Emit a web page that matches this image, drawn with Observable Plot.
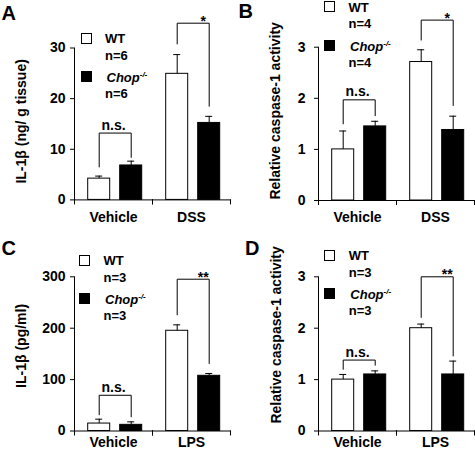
<!DOCTYPE html>
<html><head><meta charset="utf-8">
<script src="https://cdn.jsdelivr.net/npm/d3@7"></script>
<script src="https://cdn.jsdelivr.net/npm/@observablehq/plot@0.6"></script>
<style>
html,body{margin:0;padding:0;background:#fff;}
#fig{position:relative;width:475px;height:454px;overflow:hidden;font-family:"Liberation Sans",Arial,sans-serif;color:#000;}
.panel{position:absolute;}
.letter{position:absolute;font-weight:bold;font-size:20px;line-height:20px;}
.sq{position:absolute;width:9px;height:9px;border:1px solid #000;box-sizing:content-box;}
.lt{position:absolute;font-weight:bold;font-size:13px;line-height:13px;white-space:nowrap;}
.lt i sup{font-size:8px;vertical-align:5px;line-height:0;}
</style></head><body><div id="fig"></div>
<script>
// ---- shared categories ----
const genotypes = ["WT", "Chop"];
const genotypeColors = ["white", "black"];
const conditionsDSS = ["Vehicle", "DSS"];
const conditionsLPS = ["Vehicle", "LPS"];

// ---- Panel A: IL-1β (ng/ g tissue), DSS ----
const meanA_WT = [4.2, 24.9];
const meanA_Chop = [6.8, 15.2];
const errA_WT = [0.5, 3.8];
const errA_Chop = [0.85, 1.3];
const ticksA = [0, 10, 20, 30];
const sigA = ["n.s.", "*"];
const bracketTopA = [13.2, 34.9];
const bracketLegWT_A = [6.5, 30.8];
const bracketLegChop_A = [8.4, 18.5];
const nA = 6;

// ---- Panel B: relative caspase-1 activity, DSS ----
const meanB_WT = [1.0, 2.71];
const meanB_Chop = [1.45, 1.38];
const errB_WT = [0.36, 0.24];
const errB_Chop = [0.1, 0.27];
const ticksB = [0, 1, 2, 3];
const sigB = ["n.s.", "*"];
const bracketTopB = [1.97, 3.53];
const bracketLegWT_B = [1.5, 3.14];
const bracketLegChop_B = [1.66, 1.86];
const nB = 4;

// ---- Panel C: IL-1β (pg/ml), LPS ----
const meanC_WT = [14.5, 195];
const meanC_Chop = [12, 107.4];
const errC_WT = [8.5, 11.5];
const errC_Chop = [5.8, 4.5];
const ticksC = [0, 100, 200, 300];
const sigC = ["n.s.", "**"];
const bracketTopC = [69.5, 295.3];
const bracketLegWT_C = [31.5, 226];
const bracketLegChop_C = [27.6, 131.3];
const nC = 3;

// ---- Panel D: relative caspase-1 activity, LPS ----
const meanD_WT = [1.0, 2.0];
const meanD_Chop = [1.1, 1.1];
const errD_WT = [0.1, 0.08];
const errD_Chop = [0.07, 0.26];
const ticksD = [0, 1, 2, 3];
const sigD = ["n.s.", "**"];
const bracketTopD = [1.38, 3.0];
const bracketLegWT_D = [1.2, 2.21];
const bracketLegChop_D = [1.28, 1.46];
const nD = 3;

const FONT = "Liberation Sans, Arial, sans-serif";

function panel(p, L) {
  const bars = [];
  p.conds.forEach((c, i) => {
    bars.push({cond: c, geno: "WT", value: p.meanWT[i], err: p.errWT[i]});
    bars.push({cond: c, geno: "Chop", value: p.meanChop[i], err: p.errChop[i]});
  });
  const bracket = [];
  p.conds.forEach((c, i) => {
    bracket.push({cond: c, geno: "WT", y: p.legWT[i]});
    bracket.push({cond: c, geno: "WT", y: p.top[i]});
    bracket.push({cond: c, geno: "Chop", y: p.top[i]});
    bracket.push({cond: c, geno: "Chop", y: p.legChop[i]});
  });
  const sig = p.conds.map((c, i) => ({cond: c, label: p.sig[i], y: p.top[i]}));
  const innerH = L.height - L.marginTop - L.marginBottom;
  return Plot.plot({
    width: L.width, height: L.height,
    marginLeft: L.marginLeft, marginRight: L.marginRight,
    marginTop: L.marginTop, marginBottom: L.marginBottom,
    style: {fontFamily: FONT, fontSize: "14px", fontWeight: "bold", background: "transparent", overflow: "visible", color: "black"},
    fx: {domain: p.conds, padding: 0},
    x: {domain: genotypes, paddingInner: 0.32, paddingOuter: 0.35, align: 0.55, axis: null},
    y: {domain: [0, p.ticks[p.ticks.length - 1]]},
    color: {domain: genotypes, range: genotypeColors},
    marks: [
      Plot.barY(bars, {fx: "cond", x: "geno", y: "value", fill: "geno", stroke: "black", strokeWidth: 1}),
      Plot.ruleX(bars, {fx: "cond", x: "geno", y1: "value", y2: d => d.value + d.err, stroke: "black", strokeWidth: 1}),
      Plot.tickY(bars, {fx: "cond", x: "geno", y: d => d.value + d.err, insetLeft: 7.5, insetRight: 7.5, stroke: "black", strokeWidth: 1}),
      Plot.line(bracket, {fx: "cond", x: "geno", y: "y", z: "cond", stroke: "black", strokeWidth: 1}),
      Plot.text(sig.filter(d => d.label === "n.s."), {fx: "cond", y: "y", text: "label", dy: -8, fontSize: 14, fontWeight: "bold", fill: "black"}),
      Plot.text(sig.filter(d => d.label !== "n.s."), {fx: "cond", x: () => "Chop", y: "y", text: "label", dx: -6, dy: -2, fontSize: 14, fontWeight: "bold", fill: "black"}),
      Plot.frame({anchor: "left", facetAnchor: "left", stroke: "black"}),
      Plot.frame({anchor: "bottom", stroke: "black"}),
      Plot.frame({anchor: "left", insetTop: innerH, insetBottom: -4, stroke: "black"}),
      Plot.frame({anchor: "right", insetTop: innerH, insetBottom: -4, stroke: "black"}),
      Plot.axisY({ticks: p.ticks, tickSize: 4, tickPadding: L.tickPadding, tickFormat: d3.format("d"), fontSize: 14, fontWeight: "bold", label: null}),
      Plot.axisFx({anchor: "bottom", tickSize: 0, tickPadding: L.fxPadding, fontSize: 14, fontWeight: "bold", label: null}),
      Plot.text([{cond: p.conds[0], label: p.yLabel}], {fx: "cond", text: "label", frameAnchor: "left", textAnchor: "middle", lineAnchor: "middle", rotate: -90, dx: L.labelDx, dy: L.labelDy, fontSize: 14, fontWeight: "bold", fill: "black"})
    ]
  });
}

const panels = [
  {letter: "A", left: 0, top: 0, letterPos: [1.5, 3], legend: [80.5, 32.5], n: nA,
   p: {conds: conditionsDSS, meanWT: meanA_WT, meanChop: meanA_Chop, errWT: errA_WT, errChop: errA_Chop,
       ticks: ticksA, sig: sigA, top: bracketTopA, legWT: bracketLegWT_A, legChop: bracketLegChop_A, yLabel: "IL-1β (ng/ g tissue)"},
   L: {width: 237, height: 227, marginLeft: 73.3, marginRight: 7, marginTop: 47.5, marginBottom: 27.6, tickPadding: 5, fxPadding: 12, labelDx: -52.8, labelDy: -2.6}},
  {letter: "B", left: 237, top: 0, letterPos: [238.5, 1], legend: [324, 1], n: nB,
   p: {conds: conditionsDSS, meanWT: meanB_WT, meanChop: meanB_Chop, errWT: errB_WT, errChop: errB_Chop,
       ticks: ticksB, sig: sigB, top: bracketTopB, legWT: bracketLegWT_B, legChop: bracketLegChop_B, yLabel: "Relative caspase-1 activity"},
   L: {width: 238, height: 227, marginLeft: 80.3, marginRight: 1, marginTop: 46.7, marginBottom: 27, tickPadding: 9, fxPadding: 12, labelDx: -43.3, labelDy: -13}},
  {letter: "C", left: 0, top: 227, letterPos: [1.5, 238], legend: [79, 254.7], n: nC,
   p: {conds: conditionsLPS, meanWT: meanC_WT, meanChop: meanC_Chop, errWT: errC_WT, errChop: errC_Chop,
       ticks: ticksC, sig: sigC, top: bracketTopC, legWT: bracketLegWT_C, legChop: bracketLegChop_C, yLabel: "IL-1β (pg/ml)"},
   L: {width: 237, height: 227, marginLeft: 73.3, marginRight: 7, marginTop: 49.3, marginBottom: 23.5, tickPadding: 5, fxPadding: 6.5, labelDx: -52.8, labelDy: -8}},
  {letter: "D", left: 237, top: 227, letterPos: [245, 238], legend: [324.3, 249.7], n: nD,
   p: {conds: conditionsLPS, meanWT: meanD_WT, meanChop: meanD_Chop, errWT: errD_WT, errChop: errD_Chop,
       ticks: ticksD, sig: sigD, top: bracketTopD, legWT: bracketLegWT_D, legChop: bracketLegChop_D, yLabel: "Relative caspase-1 activity"},
   L: {width: 238, height: 227, marginLeft: 80.3, marginRight: 1, marginTop: 49.3, marginBottom: 23.5, tickPadding: 9, fxPadding: 6.5, labelDx: -41.8, labelDy: -19}}
];

const fig = document.getElementById("fig");
for (const P of panels) {
  const div = document.createElement("div");
  div.className = "panel";
  div.style.left = P.left + "px";
  div.style.top = P.top + "px";
  div.appendChild(panel(P.p, P.L));
  fig.appendChild(div);

  const letter = document.createElement("div");
  letter.className = "letter";
  letter.style.left = P.letterPos[0] + "px";
  letter.style.top = P.letterPos[1] + "px";
  letter.textContent = P.letter;
  fig.appendChild(letter);

  const [lx, ly] = P.legend;
  const items = [
    {type: "sq", fill: genotypeColors[0], dx: 0, dy: 0},
    {type: "sq", fill: genotypeColors[1], dx: 0, dy: 38.5},
    {type: "t", html: "WT", dx: 24.5, dy: -0.5},
    {type: "t", html: "n=" + P.n, dx: 24.5, dy: 16},
    {type: "t", html: "<i>Chop<sup>-/-</sup></i>", dx: 26, dy: 38.5},
    {type: "t", html: "n=" + P.n, dx: 24.5, dy: 54.5}
  ];
  for (const it of items) {
    const e = document.createElement("div");
    e.style.left = (lx + it.dx) + "px";
    e.style.top = (ly + it.dy) + "px";
    if (it.type === "sq") { e.className = "sq"; e.style.background = it.fill; }
    else { e.className = "lt"; e.innerHTML = it.html; }
    fig.appendChild(e);
  }
}
</script>
</body></html>
